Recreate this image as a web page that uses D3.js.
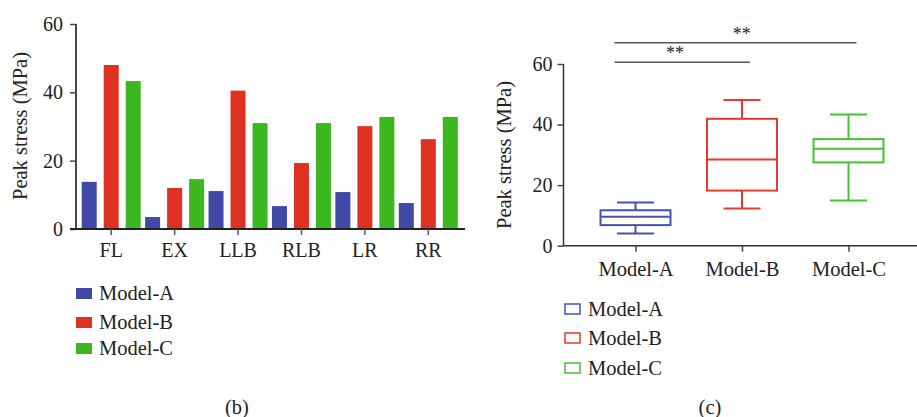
<!DOCTYPE html>
<html>
<head>
<meta charset="utf-8">
<script src="https://cdn.jsdelivr.net/npm/d3@7.9.0/dist/d3.min.js"></script>
<style>
  body { margin: 0; background: #fff; }
  svg text { font-family: "Liberation Serif", "DejaVu Serif", serif; fill: #222; }
</style>
</head>
<body>
<svg id="chart" width="917" height="417"></svg>
<script>
// data
const motions = ['FL', 'EX', 'LLB', 'RLB', 'LR', 'RR'];
const models = ['Model-A', 'Model-B', 'Model-C'];
const modelA = [13.8, 3.5, 11.1, 6.7, 10.8, 7.6];
const modelB = [48.0, 12.0, 40.5, 19.3, 30.1, 26.3];
const modelC = [43.3, 14.6, 31.0, 31.0, 32.8, 32.8];
const yTicks = [0, 20, 40, 60];

// box plot stats (min, q1, median, q3, max) per model
const boxMin = [4.0, 12.3, 14.9];
const boxQ1 = [6.8, 18.2, 27.5];
const boxMed = [9.6, 28.5, 32.0];
const boxQ3 = [11.7, 41.9, 35.2];
const boxMax = [14.3, 48.1, 43.3];

const fillColors = ['#4149a6', '#df3121', '#3bb81f'];
const lineColors = ['#4652b2', '#e8392b', '#45c232'];

const svg = d3.select('#chart');

// ---------- (b) grouped bars ----------
const gb = svg.append('g');
const xL = d3.scaleBand().domain(motions).range([79.5, 460]);
const sub = d3.scalePoint().domain(models).range([-22, 22]);
const yL = d3.scaleLinear().domain([0, 60]).range([229, 24]);
const barW = 15;

const series = [modelA, modelB, modelC];
series.forEach((vals, si) => {
  gb.selectAll('.bar' + si)
    .data(vals)
    .join('rect')
    .attr('x', (d, i) => xL(motions[i]) + xL.bandwidth() / 2 + sub(models[si]) - barW / 2)
    .attr('y', d => yL(d))
    .attr('width', barW)
    .attr('height', d => yL(0) - yL(d))
    .attr('fill', fillColors[si]);
});

// y axis
const yAxisL = gb.append('g')
  .attr('transform', 'translate(76,0)')
  .call(d3.axisLeft(yL).tickValues(yTicks).tickSize(6).tickPadding(7));
yAxisL.select('.domain').attr('stroke', '#444').attr('stroke-width', 2).attr('d', `M0,${yL(60)}V${yL(0)}`);
yAxisL.selectAll('.tick line').attr('stroke', '#444').attr('stroke-width', 1.5);
yAxisL.selectAll('.tick text').style('font-size', '20px').attr('fill', '#222');

// x axis
const xAxisL = gb.append('g')
  .attr('transform', `translate(0,${yL(0)})`)
  .call(d3.axisBottom(xL).tickSize(6).tickPadding(8));
xAxisL.select('.domain').attr('stroke', '#222').attr('stroke-width', 2).attr('d', 'M70,0H465');
xAxisL.selectAll('.tick line').attr('stroke', '#555').attr('stroke-width', 1.5);
xAxisL.selectAll('.tick text').style('font-size', '20px').attr('fill', '#222');

gb.append('text')
  .attr('transform', 'translate(27,126) rotate(-90)')
  .attr('text-anchor', 'middle')
  .style('font-size', '20.5px')
  .text('Peak stress (MPa)');

// legend (b)
models.forEach((m, i) => {
  const ly = [293, 322, 348][i];
  gb.append('rect').attr('x', 76).attr('y', ly - 5).attr('width', 16).attr('height', 11).attr('fill', fillColors[i]);
  gb.append('text').attr('x', 99).attr('y', ly + 7).style('font-size', '20.5px').text(m);
});
gb.append('text').attr('x', 237).attr('y', 414).attr('text-anchor', 'middle').style('font-size', '20.5px').text('(b)');

// ---------- (c) box plot ----------
const gc = svg.append('g');
const xR = d3.scalePoint().domain(models).range([635.5, 848.5]);
const yR = d3.scaleLinear().domain([0, 60]).range([245.7, 64]);
const boxW = 70, capW = 37;

models.forEach((m, i) => {
  const cx = xR(m);
  const g = gc.append('g').attr('stroke', lineColors[i]).attr('stroke-width', 2).attr('fill', 'none');
  // whiskers
  g.append('line').attr('x1', cx).attr('x2', cx).attr('y1', yR(boxMax[i])).attr('y2', yR(boxQ3[i]));
  g.append('line').attr('x1', cx).attr('x2', cx).attr('y1', yR(boxQ1[i])).attr('y2', yR(boxMin[i]));
  g.append('line').attr('x1', cx - capW / 2).attr('x2', cx + capW / 2).attr('y1', yR(boxMax[i])).attr('y2', yR(boxMax[i]));
  g.append('line').attr('x1', cx - capW / 2).attr('x2', cx + capW / 2).attr('y1', yR(boxMin[i])).attr('y2', yR(boxMin[i]));
  // box
  g.append('rect').attr('x', cx - boxW / 2).attr('y', yR(boxQ3[i]))
    .attr('width', boxW).attr('height', yR(boxQ1[i]) - yR(boxQ3[i]));
  g.append('line').attr('x1', cx - boxW / 2).attr('x2', cx + boxW / 2).attr('y1', yR(boxMed[i])).attr('y2', yR(boxMed[i]));
});

const yAxisR = gc.append('g')
  .attr('transform', 'translate(563.5,0)')
  .call(d3.axisLeft(yR).tickValues(yTicks).tickSize(6).tickPadding(5));
yAxisR.select('.domain').attr('stroke', '#333').attr('stroke-width', 1.5).attr('d', `M0,${yR(60)}V${yR(0)}`);
yAxisR.selectAll('.tick line').attr('stroke', '#444').attr('stroke-width', 1.5);
yAxisR.selectAll('.tick text').style('font-size', '20px').attr('fill', '#222');

const xAxisR = gc.append('g')
  .attr('transform', `translate(0,${yR(0)})`)
  .call(d3.axisBottom(xR).tickSize(6).tickPadding(10));
xAxisR.select('.domain').attr('stroke', '#333').attr('stroke-width', 1.5).attr('d', 'M563,0H917');
xAxisR.selectAll('.tick line').attr('stroke', '#444').attr('stroke-width', 1.5);
xAxisR.selectAll('.tick text').style('font-size', '20.5px').attr('fill', '#222');

gc.append('text')
  .attr('transform', 'translate(511,155) rotate(-90)')
  .attr('text-anchor', 'middle')
  .style('font-size', '20.5px')
  .text('Peak stress (MPa)');

// significance bars
const sig = [
  { from: 'Model-A', to: 'Model-B', y: 62.3, label: '**', lx: 675 },
  { from: 'Model-A', to: 'Model-C', y: 42.7, label: '**', lx: 741.7 }
];
sig.forEach(s => {
  gc.append('line')
    .attr('x1', xR(s.from) - 21).attr('x2', xR(s.to) + 8)
    .attr('y1', s.y).attr('y2', s.y)
    .attr('stroke', '#555').attr('stroke-width', 1.5);
  gc.append('text').attr('x', s.lx).attr('y', s.y - 3).attr('text-anchor', 'middle')
    .style('font-size', '18px').text(s.label);
});

// legend (c)
models.forEach((m, i) => {
  const ly = [309, 338, 368][i];
  gc.append('rect').attr('x', 565).attr('y', ly - 5).attr('width', 15).attr('height', 10)
    .attr('fill', 'none').attr('stroke', lineColors[i]).attr('stroke-width', 1.5);
  gc.append('text').attr('x', 588).attr('y', ly + 7).style('font-size', '20.5px').text(m);
});
gc.append('text').attr('x', 710).attr('y', 414).attr('text-anchor', 'middle').style('font-size', '20.5px').text('(c)');
</script>
</body>
</html>
